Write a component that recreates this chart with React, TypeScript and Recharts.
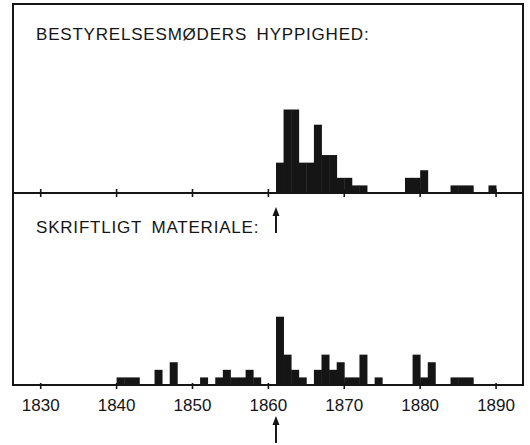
import { BarChart, Bar, XAxis, YAxis, ReferenceLine } from "recharts";

// board meetings per year (top panel)
const MEETING_YEARS = [
  1861, 1862, 1863, 1864, 1865, 1866, 1867, 1868, 1869, 1870, 1871, 1872,
  1878, 1879, 1880, 1884, 1885, 1886, 1889,
];
const MEETING_COUNTS = [4, 11, 11, 4, 4, 9, 5, 5, 2, 2, 1, 1, 2, 2, 3, 1, 1, 1, 1];

// written material per year (bottom panel)
const WRITTEN_YEARS = [
  1840, 1841, 1842, 1845, 1847, 1851, 1853, 1854, 1855, 1856, 1857, 1858,
  1861, 1862, 1863, 1864, 1866, 1867, 1868, 1869, 1870, 1871, 1872, 1874,
  1879, 1880, 1881, 1884, 1885, 1886,
];
const WRITTEN_COUNTS = [
  1, 1, 1, 2, 3, 1, 1, 2, 1, 1, 2, 1, 9, 4, 2, 1, 2, 4, 2, 3, 1, 1, 4, 1, 4, 1,
  3, 1, 1, 1,
];

const TICK_YEARS = [1830, 1840, 1850, 1860, 1870, 1880, 1890];
const ARROW_YEAR = 1861;

const TOP_TITLE = "BESTYRELSESMØDERS HYPPIGHED:";
const BOTTOM_TITLE = "SKRIFTLIGT MATERIALE:";

const INK = "#151515";
const FONT = '"Liberation Sans", Arial, sans-serif';
const X_DOMAIN = [1826.35, 1893.55];

// each bar covers the year [y, y+1)
const meetings = MEETING_YEARS.map((y, i) => ({ x: y + 0.5, count: MEETING_COUNTS[i] }));
const written = WRITTEN_YEARS.map((y, i) => ({ x: y + 0.5, count: WRITTEN_COUNTS[i] }));

const Tick = (props: any) => {
  const { x, y, payload, withLabel } = props;
  return (
    <g>
      <line x1={x} x2={x} y1={withLabel ? y - 2 : y - 4} y2={y + 4} stroke={INK} strokeWidth={1.6} />
      {withLabel && (
        <text x={x} y={y + 26} textAnchor="middle" fontSize={17} fontFamily={FONT} fill={INK}>
          {payload.value}
        </text>
      )}
    </g>
  );
};

const Arrow = ({ x, y1, y2 }: { x: number; y1: number; y2: number }) => (
  <g>
    <line x1={x} x2={x} y1={y1 + 6} y2={y2} stroke={INK} strokeWidth={2} />
    <polygon points={`${x - 3.5},${y1 + 9} ${x + 3.5},${y1 + 9} ${x},${y1}`} fill={INK} />
  </g>
);

export default function App() {
  return (
    <div
      style={{
        position: "absolute",
        left: 0,
        top: 0,
        width: 530,
        height: 445,
        background: "#fff",
        overflow: "hidden",
      }}
    >
      {/* frame */}
      <div
        style={{
          position: "absolute",
          left: 12,
          top: 3,
          width: 512,
          height: 383,
          border: `2px solid ${INK}`,
          boxSizing: "border-box",
        }}
      />

      <div style={{ position: "absolute", left: 13, top: 4 }}>
        <BarChart
          width={510}
          height={201}
          data={meetings}
          margin={{ top: 0, right: 0, bottom: 0, left: 0 }}
          barCategoryGap={0}
          barGap={0}
        >
          <XAxis
            dataKey="x"
            type="number"
            domain={X_DOMAIN}
            allowDataOverflow
            ticks={TICK_YEARS}
            interval={0}
            height={12}
            tickSize={0}
            tickMargin={0}
            tickLine={false}
            axisLine={{ stroke: INK, strokeWidth: 2 }}
            tick={<Tick withLabel={false} />}
          />
          <YAxis hide domain={[0, 24.9]} />
          <Bar dataKey="count" fill={INK} isAnimationActive={false} />
        </BarChart>
      </div>

      <div style={{ position: "absolute", left: 13, top: 193 }}>
        <BarChart
          width={510}
          height={252}
          data={written}
          margin={{ top: 0, right: 0, bottom: 0, left: 0 }}
          barCategoryGap={0}
          barGap={0}
        >
          <XAxis
            dataKey="x"
            type="number"
            domain={X_DOMAIN}
            allowDataOverflow
            ticks={TICK_YEARS}
            interval={0}
            height={60}
            tickSize={0}
            tickMargin={0}
            tickLine={false}
            axisLine={{ stroke: INK, strokeWidth: 2 }}
            tick={<Tick withLabel />}
          />
          <YAxis hide domain={[0, 25.3]} />
          <Bar dataKey="count" fill={INK} isAnimationActive={false} />
          <ReferenceLine
            x={ARROW_YEAR}
            ifOverflow="visible"
            shape={(p: any) => {
              const top = Math.min(p.y1, p.y2);
              const bottom = Math.max(p.y1, p.y2);
              return (
                <g>
                  <Arrow x={p.x1} y1={top + 14} y2={top + 40} />
                  <Arrow x={p.x1} y1={bottom + 31} y2={bottom + 58} />
                </g>
              );
            }}
          />
        </BarChart>
      </div>

      <svg
        width={530}
        height={445}
        style={{ position: "absolute", left: 0, top: 0, pointerEvents: "none" }}
      >
        <text x={36} y={40} fontSize={17} fontFamily={FONT} fill={INK} letterSpacing={0.8} wordSpacing={4}>
          {TOP_TITLE}
        </text>
        <text x={36} y={233} fontSize={17} fontFamily={FONT} fill={INK} letterSpacing={0.8} wordSpacing={4}>
          {BOTTOM_TITLE}
        </text>
      </svg>
    </div>
  );
}
